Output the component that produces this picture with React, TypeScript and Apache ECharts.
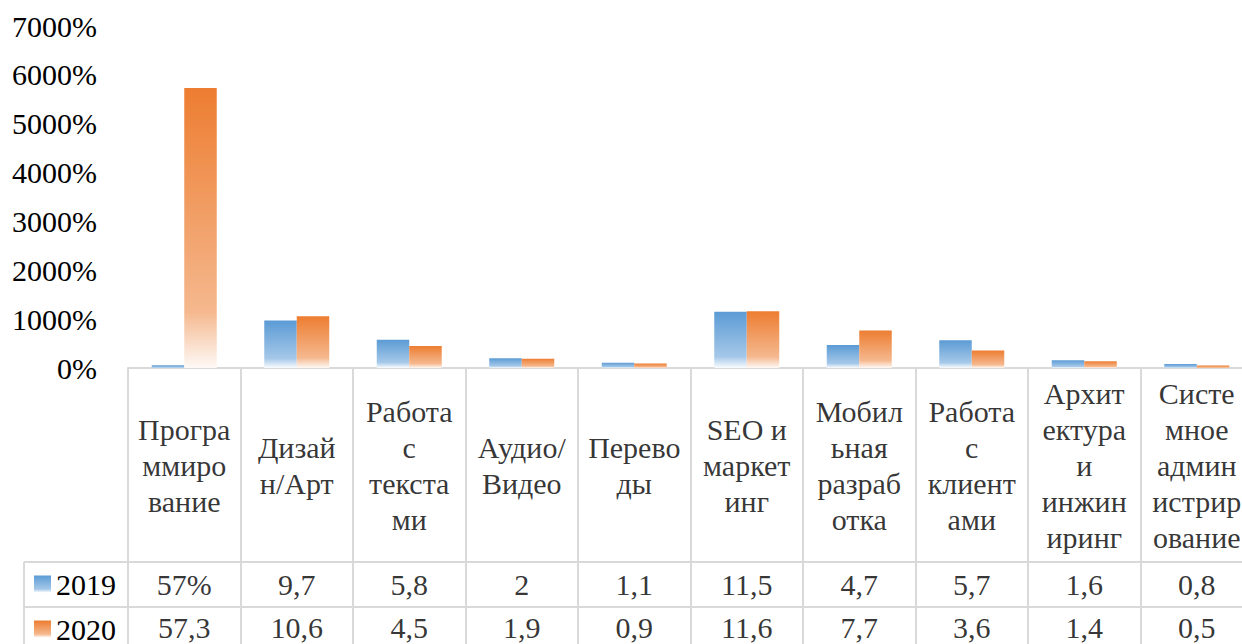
import React, { useEffect, useRef } from "react";
import * as echarts from "echarts";

const categories = [
  "Програ\nммиро\nвание",
  "Дизай\nн/Арт",
  "Работа\nс\nтекста\nми",
  "Аудио/\nВидео",
  "Перево\nды",
  "SEO и\nмаркет\nинг",
  "Мобил\nьная\nразраб\nотка",
  "Работа\nс\nклиент\nами",
  "Архит\nектура\nи\nинжин\nиринг",
  "Систе\nмное\nадмин\nистрир\nование",
];
const seriesNames = ["2019", "2020"];
const values2019 = [0.57, 9.7, 5.8, 2, 1.1, 11.5, 4.7, 5.7, 1.6, 0.8];
const values2020 = [57.3, 10.6, 4.5, 1.9, 0.9, 11.6, 7.7, 3.6, 1.4, 0.5];
const yMax = 70;
const yStep = 10;

const FONT = "'Liberation Serif', 'Times New Roman', serif";
const BORDER = { color: "#D9D9D9", width: 2 };

const fmtNum = (v: number) => String(v).replace(".", ",");
const text2019 = values2019.map((v, i) => (i === 0 ? `${Math.round(v * 100)}%` : fmtNum(v)));
const text2020 = values2020.map((v) => fmtNum(v));

const grad = (c0: string, c1: string, c2: string) =>
  new echarts.graphic.LinearGradient(0, 0, 0, 1, [
    { offset: 0, color: c0 },
    { offset: 0.8, color: c1 },
    { offset: 1, color: c2 },
  ]);

export default function App() {
  const ref = useRef<HTMLDivElement>(null);
  useEffect(() => {
    if (!ref.current) return;
    const chart = echarts.init(ref.current, undefined, { renderer: "svg" });
    const hiddenCat = (gridIndex: number, data: string[], split: boolean) => ({
      gridIndex,
      type: "category",
      data,
      axisLine: { show: false },
      axisTick: { show: false },
      axisLabel: { show: false },
      splitLine: { show: split, lineStyle: BORDER },
    });
    const textSeries = (
      name: string,
      xi: number,
      data: any[],
      texts: string[],
      lh: number,
      dy: number
    ) => ({
      name,
      type: "scatter",
      xAxisIndex: xi,
      yAxisIndex: xi,
      silent: true,
      symbolSize: 1,
      itemStyle: { color: "transparent" },
      data,
      label: {
        show: true,
        position: "inside",
        offset: [0, dy],
        fontSize: 30,
        lineHeight: lh,
        fontFamily: FONT,
        color: "#000",
        align: "center",
        formatter: (p: any) => texts[p.dataIndex],
      },
      z: 5,
    });
    const g = { outerBoundsMode: "none", containLabel: false };
    chart.setOption({
      animation: false,
      backgroundColor: "#fff",
      textStyle: { fontFamily: FONT },
      grid: [
        { ...g, left: 128, width: 1125, top: 26, height: 342 },
        { ...g, left: 128, width: 1125, top: 368, height: 194 },
        { ...g, left: 128, width: 1125, top: 562, height: 90 },
        { ...g, left: 24, width: 104, top: 562, height: 90 },
      ],
      legend: {
        data: seriesNames,
        orient: "vertical",
        left: 34,
        top: 569,
        padding: 0,
        itemWidth: 17,
        itemHeight: 17,
        itemGap: 15,
        icon: "rect",
        textStyle: { fontSize: 30, fontFamily: FONT, color: "#000", lineHeight: 30 },
      },
      xAxis: [
        {
          gridIndex: 0,
          type: "category",
          data: categories,
          axisLine: { show: true, lineStyle: BORDER },
          axisTick: { show: false },
          axisLabel: { show: false },
        },
        hiddenCat(1, categories, true),
        hiddenCat(2, categories, true),
        hiddenCat(3, [""], true),
      ],
      yAxis: [
        {
          gridIndex: 0,
          type: "value",
          min: 0,
          max: yMax,
          interval: yStep,
          axisLine: { show: false },
          axisTick: { show: false },
          splitLine: { show: false },
          axisLabel: {
            formatter: (v: number) => `${Math.round(v * 100)}%`,
            fontSize: 30,
            fontFamily: FONT,
            color: "#000",
            margin: 31,
          },
        },
        hiddenCat(1, ["row"], false),
        hiddenCat(2, [seriesNames[1], seriesNames[0]], true),
        hiddenCat(3, [seriesNames[1], seriesNames[0]], true),
      ],
      series: [
        {
          name: seriesNames[0],
          type: "bar",
          xAxisIndex: 0,
          yAxisIndex: 0,
          data: values2019,
          barWidth: 32.5,
          barGap: "0%",
          itemStyle: { color: grad("#5B9BD5", "#A5C8E8", "#FAFCFE") },
        },
        {
          name: seriesNames[1],
          type: "bar",
          xAxisIndex: 0,
          yAxisIndex: 0,
          data: values2020,
          barWidth: 32.5,
          barGap: "0%",
          itemStyle: { color: grad("#ED7D31", "#F5B88E", "#FEF9F6") },
        },
        textSeries("cats", 1, categories.map((_, i) => [i, 0]), categories, 36, 0),
        textSeries("t2019", 2, values2019.map((_, i) => [i, 1]), text2019, 28, 0),
        textSeries("t2020", 2, values2020.map((_, i) => [i, 0]), text2020, 28, -2),
      ],
    });
    return () => chart.dispose();
  }, []);
  return (
    <div
      ref={ref}
      style={{ position: "fixed", left: 0, top: 0, width: 1242, height: 644, background: "#fff" }}
    />
  );
}
